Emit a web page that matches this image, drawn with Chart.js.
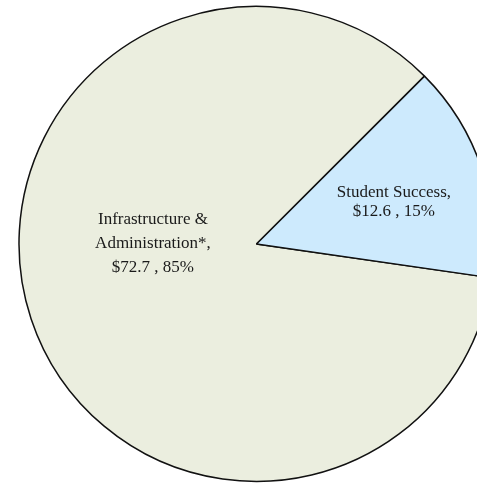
<!DOCTYPE html>
<html>
<head>
<meta charset="utf-8">
<script src="https://cdn.jsdelivr.net/npm/chart.js@4/dist/chart.umd.min.js"></script>
<style>
  html, body { margin: 0; padding: 0; background: #fff; overflow: hidden; }
  #wrap { width: 477px; height: 483px; overflow: hidden; }
</style>
</head>
<body>
<div id="wrap"><canvas id="budgetPie" width="520" height="483"></canvas></div>
<script>
// budget split, $ millions
const categories = [['Infrastructure &', 'Administration*'], ['Student Success']];
const amounts = [72.7, 12.6];
const sliceColors = ['#ebeedf', '#cdeafd'];

// where each label block sits, relative to the pie centre
const labelPlacement = [
  { angle: 180.5, dist: 0.436, lineHeight: 24 },
  { angle: -17, dist: 0.605, lineHeight: 19 },
];

const total = amounts.reduce((a, b) => a + b, 0);

const sliceLabels = {
  id: 'sliceLabels',
  afterDatasetsDraw(chart) {
    const { ctx } = chart;
    const arcs = chart.getDatasetMeta(0).data;
    ctx.save();
    ctx.font = '17px "Liberation Serif", "Times New Roman", serif';
    ctx.fillStyle = '#1a1a1a';
    ctx.textAlign = 'center';
    ctx.textBaseline = 'middle';
    arcs.forEach((arc, i) => {
      const place = labelPlacement[i];
      const a = place.angle * Math.PI / 180;
      const cx = arc.x + Math.cos(a) * arc.outerRadius * place.dist;
      const cy = arc.y + Math.sin(a) * arc.outerRadius * place.dist;
      const lines = categories[i].slice();
      lines[lines.length - 1] += ',';
      const pct = Math.round(amounts[i] / total * 100);
      lines.push('$' + amounts[i].toFixed(1) + ' , ' + pct + '%');
      const top = cy - (lines.length - 1) * place.lineHeight / 2;
      lines.forEach((line, k) => ctx.fillText(line, cx, top + k * place.lineHeight));
    });
    ctx.restore();
  }
};

const ctx = document.getElementById('budgetPie').getContext('2d');
new Chart(ctx, {
  type: 'pie',
  data: {
    labels: categories,
    datasets: [{
      data: amounts,
      backgroundColor: sliceColors,
      borderColor: '#111',
      borderWidth: 1.5,
    }],
  },
  options: {
    responsive: false,
    animation: false,
    events: [],
    rotation: 98.2,
    radius: 237.5,
    layout: { padding: { left: 0, right: 7, top: 5, bottom: 0 } },
    plugins: {
      legend: { display: false },
      tooltip: { enabled: false },
    },
  },
  plugins: [sliceLabels],
});
</script>
</body>
</html>
